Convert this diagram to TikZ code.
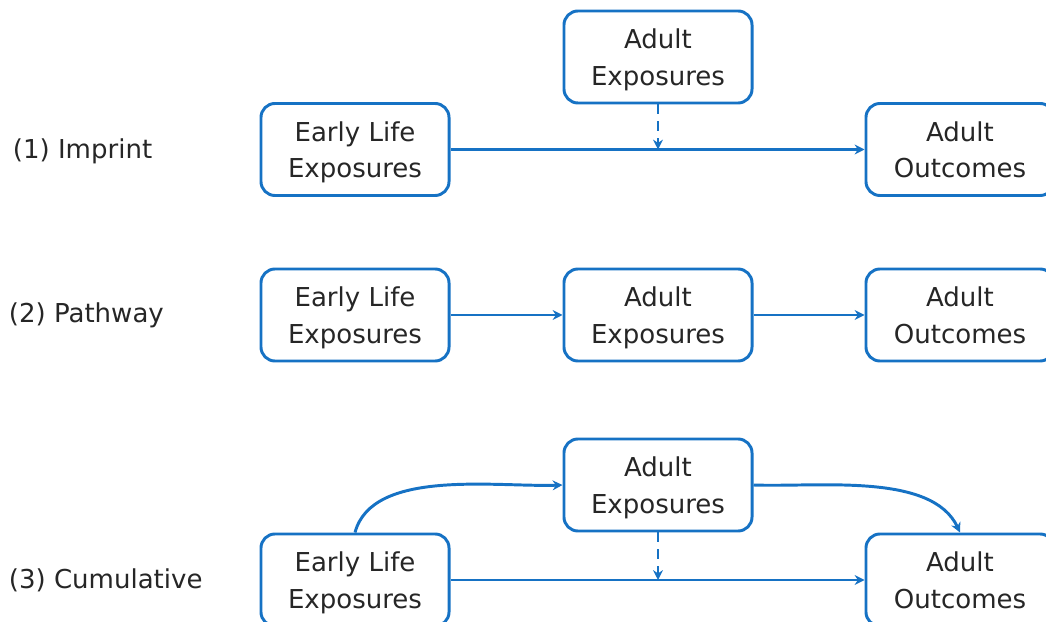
\documentclass[tikz,border=0pt]{standalone}
\usepackage{fontspec}
\setmainfont{DejaVu Sans}
\usetikzlibrary{arrows.meta,positioning}
\definecolor{boxblue}{RGB}{22,114,196}
\tikzset{
  box/.style={draw=boxblue, line width=2.1pt, rounded corners=0.35cm,
    minimum width=4.7cm, minimum height=2.3cm, align=center, text depth=0pt,
    font=\fontsize{18.5}{26}\selectfont, text=black!85},
  tag/.style={anchor=west, font=\fontsize{18.5}{26}\selectfont, text=black!85},
  link/.style={draw=boxblue, line width=2.1pt, -{Stealth[length=7pt,width=7pt]}},
  maybe/.style={link, dashed, dash pattern=on 7pt off 5pt}
}

\begin{document}
\begin{tikzpicture}[x=0.025cm,y=-0.025cm]
	\useasboundingbox (0,0) rectangle (1046,622);
	\clip (0,0) rectangle (1046,622);
	%(1) IMPRINT
	\node[tag] (tagA) at (8,151) {(1) Imprint};
	\node[box] (earlyA) at (355,149.5) {Early Life\\Exposures};
	\node[box] (expoA) at (658,57) {Adult\\Exposures};
	\node[box] (outA) at (960,149.5) {Adult\\Outcomes};
	\draw[link] (earlyA) -- (outA);
	\coordinate (hitA) at (expoA.south |- earlyA.east);
	\draw[maybe] (expoA) -- (hitA);
	%(2) PATHWAY
	\node[tag] (tagB) at (4,315) {(2) Pathway};
	\node[box] (earlyB) at (355,315) {Early Life\\Exposures};
	\node[box] (expoB) at (658,315) {Adult\\Exposures};
	\node[box] (outB) at (960,315) {Adult\\Outcomes};
	\draw[link] (earlyB) -- (expoB);
	\draw[link] (expoB) -- (outB);
	%(3) CUMULATIVE
	\node[tag] (tagC) at (4,580) {(3) Cumulative};
	\node[box] (earlyC) at (355,580) {Early Life\\Exposures};
	\node[box] (expoC) at (658,485) {Adult\\Exposures};
	\node[box] (outC) at (960,580) {Adult\\Outcomes};
	\draw[link] (earlyC) -- (outC);
	\draw[link] (earlyC.north) to[out=75,in=182,looseness=0.8] (expoC.west);
	\draw[link] (expoC.east) to[out=-2,in=115,looseness=0.8] (outC.north);
	\coordinate (hitC) at (expoC.south |- earlyC.east);
	\draw[maybe] (expoC) -- (hitC);
\end{tikzpicture}
\end{document}
